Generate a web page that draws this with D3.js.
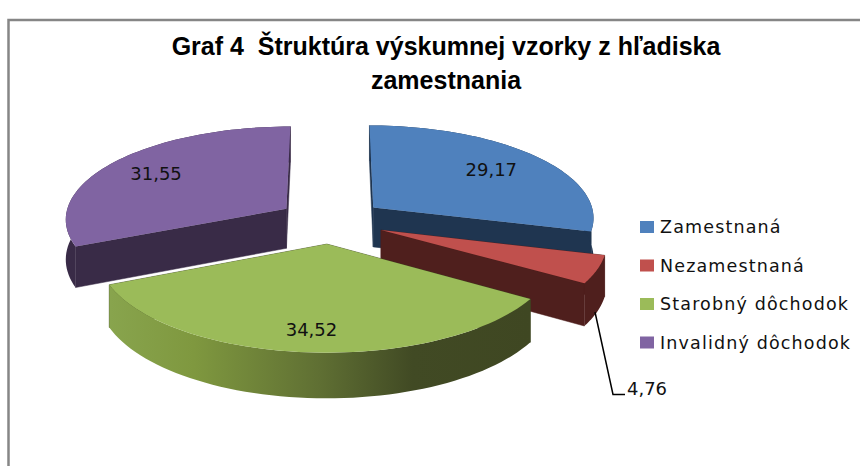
<!DOCTYPE html>
<html>
<head>
<meta charset="utf-8">
<script src="https://cdn.jsdelivr.net/npm/d3@7/dist/d3.min.js"></script>
<style>html,body{margin:0;padding:0;background:#fff}svg{display:block}</style>
</head>
<body>
<svg id="c" width="860" height="466"></svg>
<script>
const categories = ["Zamestnaná", "Nezamestnaná", "Starobný dôchodok", "Invalidný dôchodok"];
const values = [29.17, 4.76, 34.52, 31.55];
const labels = ["29,17", "4,76", "34,52", "31,55"];
const titleLines = ["Graf 4\u00a0 Štruktúra výskumnej vzorky z hľadiska", "zamestnania"];
const topColors = ["#4f81bd", "#c0504d", "#9bbb59", "#8064a2"];
const wallColors = ["#1f3550", "#4f1f1d", "#3f4722", "#392b47"];
const drawOrder = [3, 0, 1, 2];
const labelFracs = [0.72, 0.68, 0.81, 0.75];

const W = 860, H = 466;
const cx = 331, cy = 221, R = 222, k = 0.418, persp = 0.1, depth = 40, explode = 54;

const svg = d3.select("#c");

// frame
svg.append("path").attr("d", "M860,20H8.5V466").attr("fill", "none")
  .attr("stroke", "#868686").attr("stroke-width", 2.5);

// title
svg.append("g").selectAll("text").data(titleLines).join("text")
  .attr("x", 446).attr("y", (d, i) => 55 + i * 34)
  .attr("text-anchor", "middle")
  .attr("font-family", "'Liberation Sans', sans-serif")
  .attr("font-weight", "bold").attr("font-size", 25)
  .attr("fill", "#000").text(d => d);

const arcs = d3.pie().sort(null).value(d => d).startAngle(0).endAngle(2 * Math.PI)(values);

function project(X, Y, down) {
  const s = 1 / (1 - persp * Y / R);
  return [cx + X * s, cy + Y * k * s + (down ? depth * s : 0)];
}
function pt(a, r, off, down) {
  return project(off[0] + r * Math.sin(a), off[1] - r * Math.cos(a), down);
}
const line = d3.line();

const defs = svg.append("defs");
const grad = defs.append("linearGradient").attr("id", "greenSide")
  .attr("gradientUnits", "userSpaceOnUse").attr("x1", 110).attr("x2", 530).attr("y1", 0).attr("y2", 0);
[[0, "#88a44d"], [0.2, "#7f983f"], [0.5, "#5f6f33"], [0.72, "#414a24"], [1, "#3f4722"]]
  .forEach(s => grad.append("stop").attr("offset", s[0]).attr("stop-color", s[1]));

const pieG = svg.append("g");
drawOrder.forEach(i => {
  const d = arcs[i];
  const mid = (d.startAngle + d.endAngle) / 2;
  const off = [explode * Math.sin(mid), -explode * Math.cos(mid)];
  const steps = d3.range(0, 61).map(t => d.startAngle + (d.endAngle - d.startAngle) * t / 60);
  const g = pieG.append("g");
  const wall = wallColors[i];
  [d.startAngle, d.endAngle].forEach(a => {
    g.append("path").attr("fill", wall).attr("stroke", wall).attr("stroke-width", 0.5)
      .attr("d", line([pt(0, 0, off, false), pt(a, R, off, false), pt(a, R, off, true), pt(0, 0, off, true)]) + "Z");
  });
  const side = steps.map(a => pt(a, R, off, false)).concat(steps.slice().reverse().map(a => pt(a, R, off, true)));
  g.append("path").attr("fill", i === 2 ? "url(#greenSide)" : wall).attr("d", line(side) + "Z");
  const top = [pt(0, 0, off, false)].concat(steps.map(a => pt(a, R, off, false)));
  g.append("path").attr("fill", topColors[i]).attr("d", line(top) + "Z");
});

// leader line for the small slice
svg.append("path").attr("d", "M595,312L613,394.5H625").attr("fill", "none")
  .attr("stroke", "#000").attr("stroke-width", 1.5);

// data labels
arcs.forEach((d, i) => {
  const mid = (d.startAngle + d.endAngle) / 2;
  const off = [explode * Math.sin(mid), -explode * Math.cos(mid)];
  let p = pt(mid, R * labelFracs[i], off, false);
  if (i === 1) p = [647, 389];
  svg.append("text").attr("x", p[0]).attr("y", p[1]).attr("dy", "0.36em")
    .attr("text-anchor", "middle")
    .attr("font-family", "'DejaVu Sans', sans-serif").attr("font-size", 18)
    .attr("fill", "#111").text(labels[i]);
});

// legend
const legY = d3.scalePoint().domain(categories).range([227, 342.5]);
const leg = svg.append("g").selectAll("g").data(categories).join("g")
  .attr("transform", d => `translate(640,${legY(d)})`);
leg.append("rect").attr("x", 0).attr("y", -6).attr("width", 14).attr("height", 12)
  .attr("fill", (d, i) => topColors[i]);
leg.append("text").attr("x", 20).attr("dy", "0.36em")
  .attr("font-family", "'DejaVu Sans', sans-serif").attr("font-size", 17.5)
  .attr("letter-spacing", 1.15)
  .attr("fill", "#111").text(d => d);
</script>
</body>
</html>
